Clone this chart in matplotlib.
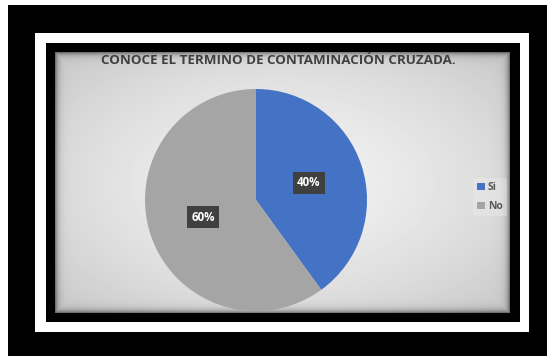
import numpy as np
import matplotlib.pyplot as plt
from matplotlib.patches import Rectangle

categories = ['Si', 'No']
values = [40, 60]
colors = ['#4472C4', '#A5A5A5']
title = 'CONOCE EL TERMINO DE CONTAMINACIÓN CRUZADA.'

W, H = 547, 356


def fx(x):
    return x / W


def fy(y):
    return 1 - y / H


fig = plt.figure(figsize=(W / 100, H / 100), dpi=100)
fig.patch.set_facecolor('white')

# frames (outer black, white, inner black) in pixel coords
frame = fig.add_axes([0, 0, 1, 1], zorder=0)
frame.set_xlim(0, W)
frame.set_ylim(H, 0)
frame.axis('off')
for (x0, y0, x1, y1, c) in [(8, 5, 547, 356, 'black'),
                            (35, 33, 529, 332, 'white'),
                            (46, 43, 520, 322, 'black')]:
    frame.add_patch(Rectangle((x0, y0), x1 - x0, y1 - y0, facecolor=c,
                              edgecolor='none'))

# gray chart panel with radial gradient and edge shadow
px0, py0, px1, py1 = 55, 52, 510, 313
bg = fig.add_axes([fx(px0), fy(py1), fx(px1 - px0), (py1 - py0) / H], zorder=1)
nx, ny = px1 - px0, py1 - py0
xx, yy = np.meshgrid(np.linspace(-1, 1, nx), np.linspace(-1, 1, ny))
r = np.sqrt(xx ** 2 + yy ** 2) / np.sqrt(2)
img = 0.95 - 0.17 * r ** 1.5
dx = np.minimum(np.arange(nx), np.arange(nx)[::-1])[None, :]
dy = np.minimum(np.arange(ny), np.arange(ny)[::-1])[:, None]
d = np.minimum(dx, dy)
img = img - 0.35 * np.exp(-d / 3.0)
bg.imshow(img, cmap='gray', vmin=0, vmax=1, aspect='auto', interpolation='bilinear')
bg.axis('off')

fig.text(fx(278), fy(60), title, ha='center', va='center', fontsize=9.6,
         fontweight='bold', color='#404040', family='Open Sans', zorder=5)

# pie
cx, cy, rad = 256, 200, 111
ax = fig.add_axes([fx(cx - rad), fy(cy + rad), fx(2 * rad), 2 * rad / H], zorder=2)
wedges, texts, autotexts = ax.pie(values, colors=colors, startangle=90,
                                  counterclock=False, autopct='%1.0f%%',
                                  pctdistance=0.5,
                                  wedgeprops=dict(linewidth=0))
for t in autotexts:
    t.set_color('white')
    t.set_fontsize(8.3)
    t.set_fontweight('bold')
    t.set_family('Open Sans')
    t.set_bbox(dict(facecolor='#404040', edgecolor='none', pad=3.2))
ax.set_xlim(-1, 1)
ax.set_ylim(-1, 1)
ax.set_aspect('equal')
ax.patch.set_visible(False)

leg = fig.legend(wedges, categories, loc='center left',
                 bbox_to_anchor=(fx(468), fy(197)), frameon=True,
                 handlelength=0.7, handleheight=0.7,
                 handletextpad=0.3, labelspacing=0.8, borderpad=0.4,
                 prop={'family': 'Open Sans', 'weight': 'bold', 'size': 7.5})
leg.set_zorder(6)
leg.get_frame().set_facecolor('#f0f0f0')
leg.get_frame().set_edgecolor('none')
leg.get_frame().set_alpha(0.35)
for t in leg.get_texts():
    t.set_color('#595959')

fig.savefig('out.png', dpi=100)
